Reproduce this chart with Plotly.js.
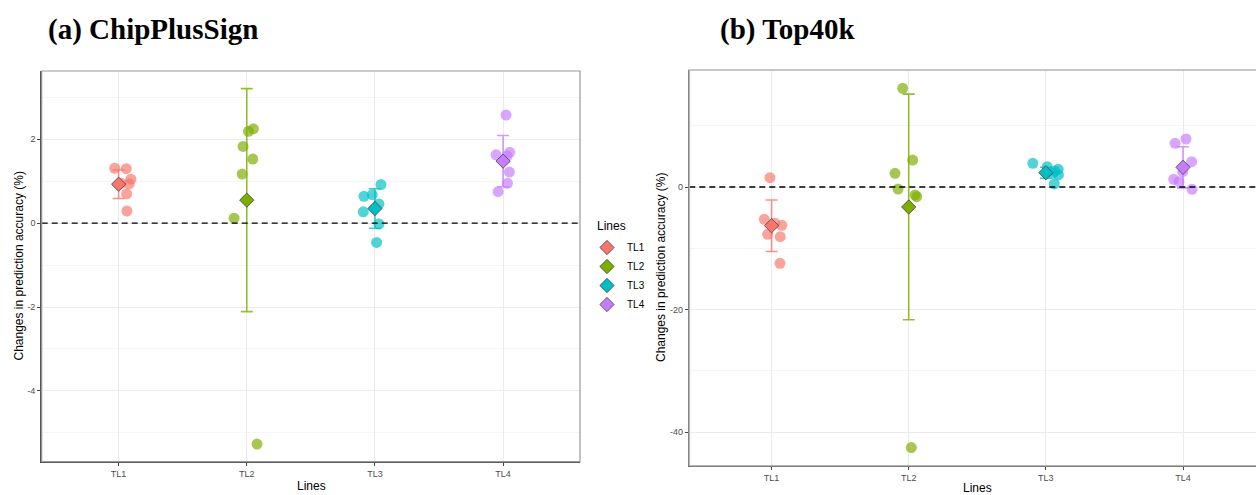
<!DOCTYPE html>
<html>
<head>
<meta charset="utf-8">
<script src="https://cdn.plot.ly/plotly-3.0.1.min.js"></script>
<style>
html, body { margin: 0; padding: 0; background: #fff; overflow: hidden; }
#chart { width: 1290px; height: 495px; }
</style>
</head>
<body>
<div id="chart"></div>
<script>
// ---------------- data ----------------
const lines = ['TL1', 'TL2', 'TL3', 'TL4'];
const lineColors = ['#F8766D', '#7CAE00', '#00BFC4', '#C77CFF'];

// (a) ChipPlusSign: individual changes (%) per line
const chipTL1 = [1.31, 1.30, 1.05, 0.94, 0.70, 0.29, 0.95];
const chipTL2 = [2.25, 2.19, 1.83, 1.53, 1.17, 0.12, -5.27];
const chipTL3 = [0.92, 0.64, 0.68, 0.46, 0.27, -0.02, -0.46];
const chipTL4 = [2.58, 1.63, 1.69, 1.60, 1.22, 0.95, 0.75];
const chipMean = [0.93, 0.55, 0.35, 1.48];
const chipSD = [0.34, 2.66, 0.47, 0.61];

// (b) Top40k: individual changes (%) per line
const topTL1 = [1.52, -5.27, -5.90, -6.25, -7.72, -8.10, -12.45];
const topTL2 = [16.10, 4.40, 2.23, -0.33, -1.58, -1.30, -42.50];
const topTL3 = [3.87, 3.31, 2.89, 2.60, 2.23, 1.96, 0.50];
const topTL4 = [7.83, 7.13, 4.13, 2.50, 1.25, 0.87, -0.38];
const topMean = [-6.31, -3.26, 2.33, 3.21];
const topSD = [4.20, 18.40, 0.90, 3.35];

// horizontal jitter (category units) of the individual points
const chipJitter = [
  [-0.030, 0.060, 0.096, 0.083, 0.063, 0.065, 0.020],
  [0.052, 0.013, -0.029, 0.047, -0.036, -0.099, 0.080],
  [0.047, -0.086, -0.021, 0.031, -0.091, 0.031, 0.013],
  [0.023, -0.055, 0.052, 0.031, 0.049, 0.034, -0.039]
];
const topJitter = [
  [-0.012, -0.053, 0.024, 0.075, -0.029, 0.063, 0.061],
  [-0.044, 0.029, -0.100, -0.078, 0.058, 0.046, 0.019],
  [-0.095, 0.010, 0.090, 0.066, 0.049, 0.092, 0.061],
  [0.022, -0.058, 0.063, -0.002, -0.068, -0.029, 0.066]
];

const chipPoints = [chipTL1, chipTL2, chipTL3, chipTL4];
const topPoints = [topTL1, topTL2, topTL3, topTL4];

// ---------------- layout helpers ----------------
const W = 1290, H = 495;
const fx = p => p / W;
const fy = p => 1 - p / H;

function rgba(hex, a) {
  const n = parseInt(hex.slice(1), 16);
  return `rgba(${(n >> 16) & 255},${(n >> 8) & 255},${n & 255},${a})`;
}

const traces = [];
function addPanel(points, jitter, means, sds, xa, ya, legend) {
  points.forEach((vals, i) => {
    traces.push({
      type: 'scatter', mode: 'markers',
      x: vals.map((v, k) => i + 1 + jitter[i][k]),
      y: vals,
      xaxis: xa, yaxis: ya,
      marker: { size: 11, color: lineColors[i], opacity: 0.68 },
      showlegend: false, hoverinfo: 'y'
    });
  });
  means.forEach((m, i) => {
    traces.push({
      type: 'scatter', mode: 'markers',
      name: lines[i],
      x: [i + 1], y: [m],
      xaxis: xa, yaxis: ya,
      error_y: { type: 'data', array: [sds[i]], visible: true,
                 color: rgba(lineColors[i], 0.8), thickness: 1.6, width: 6 },
      marker: { symbol: 'diamond', size: 11, color: lineColors[i],
                line: { color: 'rgba(60,60,60,0.75)', width: 1 } },
      showlegend: legend
    });
  });
}
addPanel(chipPoints, chipJitter, chipMean, chipSD, 'x', 'y', true);
addPanel(topPoints, topJitter, topMean, topSD, 'x2', 'y2', false);

const tickFont = { family: 'Liberation Sans, Arial, sans-serif', size: 9, color: '#4D4D4D' };
const titleFont = { family: 'Liberation Sans, Arial, sans-serif', size: 12, color: '#000' };

function xAxis(d0, d1, anchor) {
  return {
    domain: [fx(d0), fx(d1)], anchor: anchor,
    range: [0.4, 4.6], tickmode: 'array',
    tickvals: [1, 2, 3, 4], ticktext: lines,
    showgrid: true, gridcolor: '#EBEBEB', gridwidth: 1,
    zeroline: false, showline: true, linecolor: '#444', linewidth: 1.5,
    ticks: 'outside', ticklen: 3, tickcolor: '#444', tickwidth: 1,
    tickfont: tickFont, fixedrange: true
  };
}
function yAxis(d0, d1, anchor, range, tv, minorTv) {
  return {
    domain: [fy(d1), fy(d0)], anchor: anchor, range: range,
    tickmode: 'array', tickvals: tv, ticktext: tv.map(v => String(v)),
    showgrid: true, gridcolor: '#EBEBEB', gridwidth: 1,
    minor: { tickmode: 'array', tickvals: minorTv, showgrid: true,
             gridcolor: '#F2F2F2', gridwidth: 0.8, ticks: '' },
    zeroline: false, showline: true, linecolor: '#555', linewidth: 1.5,
    ticks: 'outside', ticklen: 3, tickcolor: '#444', tickwidth: 1,
    tickfont: tickFont, fixedrange: true
  };
}

const layout = {
  width: W, height: H,
  margin: { l: 0, r: 0, t: 0, b: 0 },
  paper_bgcolor: '#fff', plot_bgcolor: '#fff',
  xaxis: xAxis(41.7, 580, 'y'),
  yaxis: yAxis(71, 461.7, 'x', [-5.69, 3.63], [-4, -2, 0, 2], [-5, -3, -1, 1, 3]),
  xaxis2: xAxis(689.3, 1265.3, 'y2'),
  yaxis2: yAxis(70, 465.7, 'x2', [-45.45, 19.08], [-40, -20, 0], [-30, -10, 10]),
  showlegend: true,
  legend: {
    x: fx(587), y: fy(233), xanchor: 'left', yanchor: 'top',
    font: { family: 'Liberation Sans, Arial, sans-serif', size: 10, color: '#000' },
    tracegroupgap: 0, itemwidth: 30,
    bgcolor: 'rgba(0,0,0,0)', borderwidth: 0, itemclick: false, itemdoubleclick: false
  },
  shapes: [
    { type: 'line', xref: 'x domain', yref: 'y', x0: 0, x1: 1, y0: 0, y1: 0,
      line: { color: '#000', width: 1.4, dash: '6px,4px' }, layer: 'above' },
    { type: 'line', xref: 'x2 domain', yref: 'y2', x0: 0, x1: 1, y0: 0, y1: 0,
      line: { color: '#000', width: 1.4, dash: '6px,4px' }, layer: 'above' },
    { type: 'rect', xref: 'x domain', yref: 'y domain', x0: 0, x1: 1, y0: 0, y1: 1,
      line: { color: '#9A9A9A', width: 1.2 }, layer: 'above' },
    { type: 'rect', xref: 'x2 domain', yref: 'y2 domain', x0: 0, x1: 1, y0: 0, y1: 1,
      line: { color: '#B5B5B5', width: 1.6 }, layer: 'above' }
  ],
  annotations: [
    { text: '<b>(a) ChipPlusSign</b>', xref: 'paper', yref: 'paper', x: fx(46), y: fy(29),
      xanchor: 'left', yanchor: 'middle', showarrow: false,
      font: { family: 'Liberation Serif, Times New Roman, serif', size: 29, color: '#000' } },
    { text: '<b>(b) Top40k</b>', xref: 'paper', yref: 'paper', x: fx(718), y: fy(29),
      xanchor: 'left', yanchor: 'middle', showarrow: false,
      font: { family: 'Liberation Serif, Times New Roman, serif', size: 29, color: '#000' } },
    { text: 'Lines', xref: 'paper', yref: 'paper', x: fx(595), y: fy(226),
      xanchor: 'left', yanchor: 'middle', showarrow: false, font: titleFont },
    { text: 'Changes in prediction accuracy (%)', xref: 'paper', yref: 'paper',
      x: fx(18.5), y: fy(266), textangle: -90, showarrow: false,
      xanchor: 'center', yanchor: 'middle', font: titleFont },
    { text: 'Changes in prediction accuracy (%)', xref: 'paper', yref: 'paper',
      x: fx(661), y: fy(268), textangle: -90, showarrow: false,
      xanchor: 'center', yanchor: 'middle', font: titleFont },
    { text: 'Lines', xref: 'paper', yref: 'paper', x: fx(311), y: fy(486),
      showarrow: false, xanchor: 'center', yanchor: 'middle', font: titleFont },
    { text: 'Lines', xref: 'paper', yref: 'paper', x: fx(977), y: fy(487.5),
      showarrow: false, xanchor: 'center', yanchor: 'middle', font: titleFont }
  ]
};

Plotly.newPlot('chart', traces, layout, { displayModeBar: false, staticPlot: true });
</script>
</body>
</html>
